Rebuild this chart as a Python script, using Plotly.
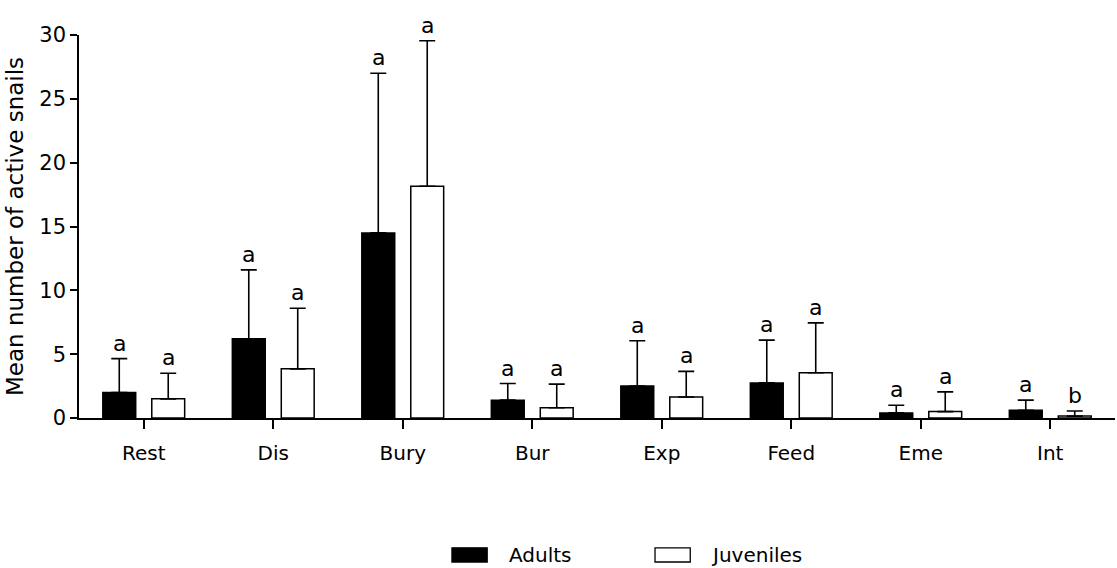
import plotly.graph_objects as go

categories = ["Rest", "Dis", "Bury", "Bur", "Exp", "Feed", "Eme", "Int"]
adult_mean = [2.0, 6.2, 14.5, 1.4, 2.5, 2.75, 0.4, 0.6]
adult_sd = [2.65, 5.4, 12.5, 1.3, 3.55, 3.35, 0.6, 0.8]
juvenile_mean = [1.5, 3.85, 18.15, 0.8, 1.65, 3.55, 0.5, 0.15]
juvenile_sd = [2.0, 4.75, 11.4, 1.85, 2.0, 3.9, 1.55, 0.4]
adult_letters = ["a"] * 8
juvenile_letters = ["a", "a", "a", "a", "a", "a", "a", "b"]

FONT = "DejaVu Sans, Arial, sans-serif"

fig = go.Figure()

err_style = dict(type="data", symmetric=False, color="black",
                 thickness=1.6, width=8)

fig.add_trace(go.Bar(
    x=categories, y=adult_mean, name="Adults",
    marker=dict(color="black", line=dict(color="black", width=1.5)),
    error_y=dict(array=adult_sd, arrayminus=[0] * len(adult_sd), **err_style),
    showlegend=False,
))
fig.add_trace(go.Bar(
    x=categories, y=juvenile_mean, name="Juveniles",
    marker=dict(color="white", line=dict(color="black", width=1.5)),
    error_y=dict(array=juvenile_sd, arrayminus=[0] * len(juvenile_sd), **err_style),
    showlegend=False,
))

# significance letters above each error bar
offset = 0.189
annotations = []
for i, cat in enumerate(categories):
    for mean, sd, letters, sign in ((adult_mean, adult_sd, adult_letters, -1),
                                    (juvenile_mean, juvenile_sd, juvenile_letters, 1)):
        annotations.append(dict(
            x=i + sign * offset, y=mean[i] + sd[i], xref="x", yref="y",
            text=letters[i], showarrow=False, yanchor="bottom", yshift=1,
            font=dict(family=FONT, size=22, color="black"),
        ))

# legend drawn as wide swatches under the plot
legend_items = [("Adults", "black", 0.360, 0.413), ("Juveniles", "white", 0.556, 0.608)]
shapes = []
for label, fill, x0, tx in legend_items:
    shapes.append(dict(type="rect", xref="paper", yref="paper",
                       x0=x0, x1=x0 + 0.034, y0=-0.376, y1=-0.339,
                       fillcolor=fill, line=dict(color="black", width=1.3)))
    annotations.append(dict(x=tx, y=-0.357, xref="paper", yref="paper",
                            text=label, showarrow=False, xanchor="left",
                            yanchor="middle",
                            font=dict(family=FONT, size=20, color="black")))

fig.update_layout(
    width=1117, height=568,
    margin=dict(l=79, r=2, t=35, b=150),
    paper_bgcolor="white", plot_bgcolor="white",
    barmode="group", bargap=0.244, bargroupgap=0.328,
    font=dict(family=FONT, size=19, color="black"),
    annotations=annotations, shapes=shapes,
    xaxis=dict(
        showline=True, linecolor="black", linewidth=1.5,
        ticks="outside", ticklen=9, tickwidth=1.5, tickcolor="black",
        ticklabelstandoff=7, showgrid=False, zeroline=False,
        range=[-0.5, 7.5],
        tickfont=dict(family=FONT, size=20, color="black"),
    ),
    yaxis=dict(
        range=[0, 30], tickvals=[0, 5, 10, 15, 20, 25, 30],
        showline=True, linecolor="black", linewidth=1.5,
        ticks="outside", ticklen=7, tickwidth=1.5, tickcolor="black",
        showgrid=False, zeroline=False,
        tickfont=dict(family=FONT, size=21, color="black"),
        title=dict(text="Mean number of active snails",
                   font=dict(family=FONT, size=23, color="black"), standoff=9),
    ),
)

fig.write_html("out.html")
